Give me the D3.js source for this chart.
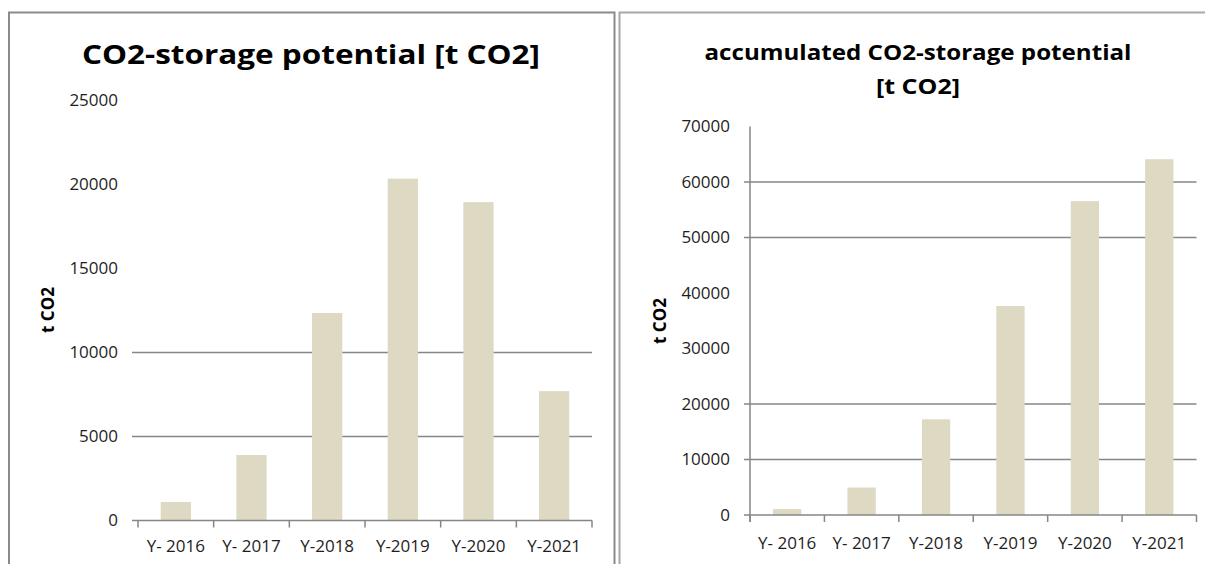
<!DOCTYPE html>
<html>
<head>
    <meta charset="utf-8">
    <title>CO2-storage potential</title>
    <script src="https://d3js.org/d3.v7.min.js"></script>
    <style>
        body { margin: 0; background: #fff; }
        svg text { font-family: "Open Sans", "Liberation Sans", sans-serif; }
        .tick-label { font-size: 17px; fill: #1e1e1e; }
        .axis-title { font-size: 17px; font-weight: bold; fill: #000; }
        .chart-title { font-weight: bold; fill: #000; }
    </style>
</head>
<body>
<script>
    // data
    var years = ["Y- 2016", "Y- 2017", "Y-2018", "Y-2019", "Y-2020", "Y-2021"];
    var yearly = [1100, 3900, 12350, 20350, 18950, 7700];
    var accumulated = [1050, 4950, 17250, 37650, 56550, 64100];

    var yearlyTicks = [0, 5000, 10000, 15000, 20000, 25000];
    var accumulatedTicks = [0, 10000, 20000, 30000, 40000, 50000, 60000, 70000];
    // only these grid lines show in the picture
    var yearlyGrid = [5000, 10000];
    var accumulatedGrid = [10000, 20000, 50000, 60000];

    var W = 1205, H = 564;
    var barColor = "#ddd9c3";
    var gridColor = "#868686";

    var svg = d3.select("body").append("svg")
        .attr("width", W)
        .attr("height", H);

    // chart frames
    svg.append("path")
        .attr("d", "M9,570 V12.5 H614.5 V570")
        .attr("fill", "none")
        .attr("stroke", "#8a8a8a")
        .attr("stroke-width", 2);
    svg.append("path")
        .attr("d", "M619.5,570 V12.5 H1215")
        .attr("fill", "none")
        .attr("stroke", "#a8a8a8")
        .attr("stroke-width", 2);

    function drawChart(o) {
        var g = svg.append("g");

        var x = d3.scaleBand()
            .domain(years)
            .range([o.x0, o.x1])
            .paddingInner(o.pad)
            .paddingOuter(o.pad / 2);

        var y = d3.scaleLinear()
            .domain([0, o.max])
            .range([o.y0, o.y1]);

        // grid lines (drawn with tick marks on the left)
        g.append("g")
            .selectAll("line")
            .data(o.grid)
            .enter()
            .append("line")
              .attr("x1", o.x0 - 6)
              .attr("x2", o.x1)
              .attr("y1", function (d) { return y(d); })
              .attr("y2", function (d) { return y(d); })
              .attr("stroke", gridColor)
              .attr("stroke-width", 1.5);

        // y tick labels
        g.append("g")
            .selectAll("text")
            .data(o.ticks)
            .enter()
            .append("text")
              .attr("class", "tick-label")
              .attr("x", o.x0 - 20)
              .attr("y", function (d) { return y(d); })
              .attr("dy", "0.35em")
              .style("text-anchor", "end")
              .text(function (d) { return d; });

        // bars
        g.append("g")
            .selectAll("rect")
            .data(o.values)
            .enter()
            .append("rect")
              .attr("x", function (d, i) { return x(years[i]); })
              .attr("y", function (d) { return y(d); })
              .attr("width", x.bandwidth())
              .attr("height", function (d) { return o.y0 - y(d); })
              .attr("fill", barColor);

        // x axis
        var xAxis = g.append("g")
            .attr("transform", "translate(0," + o.y0 + ")");
        xAxis.append("line")
            .attr("x1", o.x0 - 6)
            .attr("x2", o.x1)
            .attr("stroke", gridColor)
            .attr("stroke-width", 1.5);
        var step = (o.x1 - o.x0) / years.length;
        xAxis.selectAll(".xt")
            .data(d3.range(years.length + 1))
            .enter()
            .append("line")
              .attr("class", "xt")
              .attr("x1", function (d) { return o.x0 + d * step; })
              .attr("x2", function (d) { return o.x0 + d * step; })
              .attr("y1", 0)
              .attr("y2", 7)
              .attr("stroke", gridColor)
              .attr("stroke-width", 1.5);
        xAxis.selectAll(".xl")
            .data(years)
            .enter()
            .append("text")
              .attr("class", "tick-label xl")
              .attr("x", function (d) { return x(d) + x.bandwidth() / 2; })
              .attr("y", o.labelY)
              .attr("dy", "0.35em")
              .style("text-anchor", "middle")
              .text(function (d) { return d; });

        // y axis line
        if (o.yAxisLine) {
            g.append("line")
                .attr("x1", o.x0)
                .attr("x2", o.x0)
                .attr("y1", y(o.max))
                .attr("y2", o.y0 + 7)
                .attr("stroke", gridColor)
                .attr("stroke-width", 1.5);
        }

        // y axis title
        g.append("text")
            .attr("class", "axis-title")
            .attr("transform", "translate(" + o.yTitleX + "," + o.yTitleY + ") rotate(-90)")
            .attr("dy", "0.35em")
            .style("text-anchor", "middle")
            .text("t CO2");

        // chart title
        o.title.forEach(function (t, i) {
            g.append("text")
                .attr("class", "chart-title")
                .attr("x", o.titleX)
                .attr("y", o.titleY[i])
                .attr("textLength", o.titleLen[i])
                .attr("lengthAdjust", "spacingAndGlyphs")
                .style("font-size", o.titleSize + "px")
                .style("text-anchor", "middle")
                .text(t);
        });
    }

    drawChart({
        values: yearly, ticks: yearlyTicks, grid: yearlyGrid, max: 25000,
        x0: 138, x1: 592, y0: 520.5, y1: 100.5, pad: 0.6,
        labelY: 26, yTitleX: 48, yTitleY: 310, yAxisLine: false,
        title: ["CO2-storage potential [t CO2]"], titleX: 311, titleY: [64],
        titleLen: [458], titleSize: 27
    });

    drawChart({
        values: accumulated, ticks: accumulatedTicks, grid: accumulatedGrid, max: 70000,
        x0: 750, x1: 1196.5, y0: 515, y1: 126.5, pad: 0.62,
        labelY: 28, yTitleX: 660, yTitleY: 321, yAxisLine: true,
        title: ["accumulated CO2-storage potential", "[t CO2]"], titleX: 918, titleY: [60, 94],
        titleLen: [427, 84], titleSize: 21
    });
</script>
</body>
</html>
